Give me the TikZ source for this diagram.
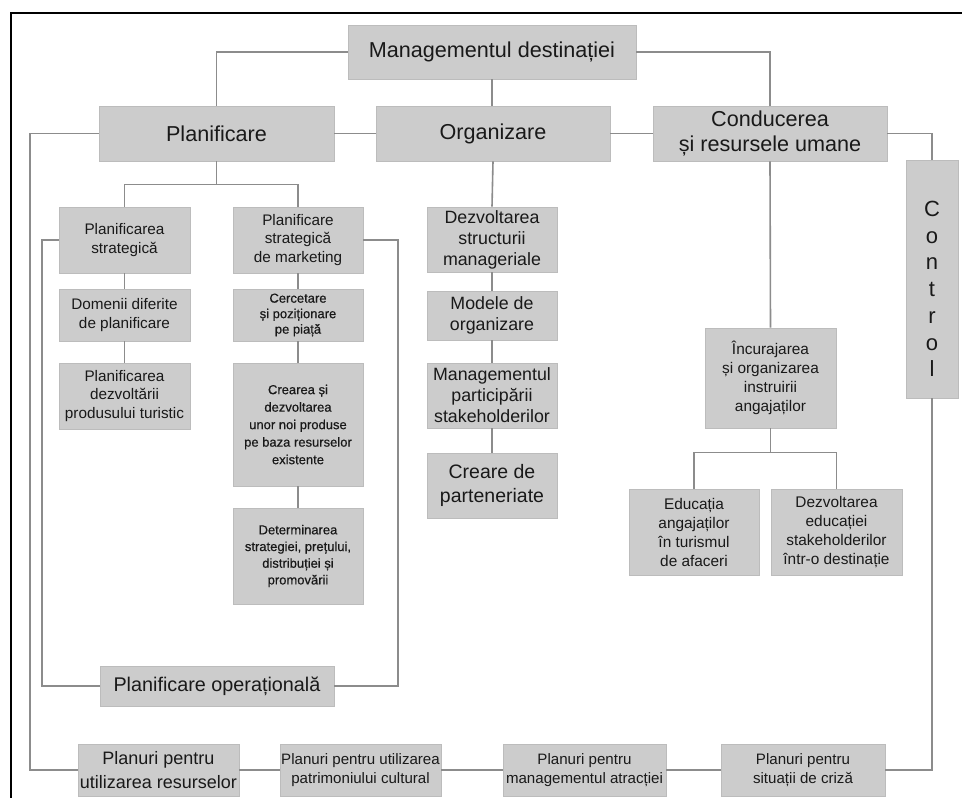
\documentclass[tikz,border=0pt]{standalone}
\usepackage{fontspec}
\setmainfont{Liberation Sans}
\newfontfamily\semibfont[FakeBold=0.5]{Liberation Sans}
\definecolor{boxgray}{RGB}{204,204,204}
\definecolor{boxedge}{RGB}{188,188,188}
\definecolor{linegray}{RGB}{140,140,140}
\definecolor{txt}{RGB}{25,25,25}
\begin{document}
\begin{tikzpicture}[x=1pt,y=-1pt,
  box/.style={fill=boxgray, draw=boxedge, line width=0.6pt, inner sep=0pt, align=center, text=txt},
  wh/.style 2 args={minimum width=#1, minimum height=#2},
  conn/.style={draw=linegray, line width=1.6pt},
  fA/.style={font=\fontsize{21.6}{24.5}\selectfont},
  fB/.style={font=\fontsize{15.3}{18.8}\selectfont},
  fC/.style={font=\semibfont\fontsize{13}{15.5}\selectfont},
  fCb/.style={font=\semibfont\fontsize{13}{17.5}\selectfont},
  fCc/.style={font=\semibfont\fontsize{13}{16.7}\selectfont},
  fD/.style={font=\fontsize{19.8}{23}\selectfont},
  fE/.style={font=\fontsize{17.8}{21}\selectfont},
  fF/.style={font=\fontsize{19.5}{23.5}\selectfont},
  fG/.style={font=\fontsize{15.4}{19}\selectfont},
  fH/.style={font=\fontsize{15.1}{19}\selectfont},
  fK/.style={font=\fontsize{18}{24}\selectfont}
]
\useasboundingbox (0,0) rectangle (962,798);
\fill[white] (0,0) rectangle (962,798);

% frame
\draw[line width=2.5pt, black] (975,13) -- (11,13) -- (11,810);

% top level
\node[box,fA,wh={288}{54}] (mgmt) at (492,52) {Managementul destinației};
\node[box,fA,wh={235}{55}] (plan) at (216.5,133.5) {Planificare};
\node[box,fA,wh={234}{55}] (org) at (493,133.5) {Organizare};
\node[box,fA,wh={234}{55}] (cond) at (770,133.5) {Conducerea\\și resursele umane};
\node[box,wh={52}{238}] (ctrl) at (932,279) {};
\node[font=\fontsize{22}{26.7}\selectfont, align=center, text=txt, inner sep=0pt] (ctrltxt) at (932,289) {C\\o\\n\\t\\r\\o\\l};

% planificare branch
\node[box,fB,wh={131}{66}] (ps) at (124.5,240) {Planificarea\\strategică};
\node[box,fB,wh={131}{52}] (dom) at (124.5,315) {Domenii diferite\\de planificare};
\node[box,fB,wh={131}{66}] (pdp) at (124.5,396) {Planificarea\\dezvoltării\\produsului turistic};
\node[box,fB,wh={130}{66}] (psm) at (298,240) {Planificare\\strategică\\de marketing};
\node[box,fC,wh={130}{52}] (cerc) at (298,315) {Cercetare\\și poziționare\\pe piață};
\node[box,fCb,wh={130}{123}] (crea) at (298,424.5) {Crearea și\\dezvoltarea\\unor noi produse\\pe baza resurselor\\existente};
\node[box,fCc,wh={130}{96}] (det) at (298,556) {Determinarea\\strategiei, prețului,\\distribuției și\\promovării};
\node[box,fD,wh={234}{40}] (op) at (217,686) {Planificare operațională};

% organizare branch
\node[box,fE,wh={130}{65}] (dsm) at (492,239.5) {Dezvoltarea\\structurii\\manageriale};
\node[box,fE,wh={130}{49}] (mod) at (492,315.5) {Modele de\\organizare};
\node[box,fE,wh={130}{65}] (mpart) at (492,395.5) {Managementul\\participării\\stakeholderilor};
\node[box,fF,wh={130}{65}] (crp) at (492,485.5) {Creare de\\parteneriate};

% conducerea branch
\node[box,fG,wh={131}{100}] (inc) at (770.5,378) {Încurajarea\\și organizarea\\instruirii\\angajaților};
\node[box,fG,wh={130}{86}] (edu) at (694,532) {Educația\\angajaților\\în turismul\\de afaceri};
\node[box,fG,wh={131}{86}] (dez) at (836.5,532) {Dezvoltarea\\educației\\stakeholderilor\\într-o destinație};

% bottom row
\node[box,fK,wh={161}{52}] (pur) at (158.5,770) {Planuri pentru\\utilizarea resurselor};
\node[box,fH,wh={161}{52}] (ppc) at (360.5,770) {Planuri pentru utilizarea\\patrimoniului cultural};
\node[box,fH,wh={163}{52}] (pma) at (584.5,770) {Planuri pentru\\managementul atracției};
\node[box,fH,wh={164}{52}] (psc) at (803,770) {Planuri pentru\\situații de criză};

% helper coordinates
\path (plan.south) ++(0,23) coordinate (pj);
\path (inc.south) ++(0,24) coordinate (cj);
\coordinate (ol) at (30,0);
\coordinate (il) at (42,0);
\coordinate (ir) at (398,0);

% connectors
\draw[conn] (mgmt.west) -| (plan.north);
\draw[conn] (mgmt.east) -| (cond.north);
\draw[conn] (mgmt.south) -- (mgmt.south |- org.north);
\draw[conn] (plan.east) -- (org.west);
\draw[conn] (org.east) -- (cond.west);
\draw[conn] (cond.east) -| (ctrl.north);

\draw[conn] (plan.south) -- (pj);
\draw[conn] (ps.north) -- (ps.north |- pj) -- (psm.north |- pj) -- (psm.north);
\draw[conn] (ps.south) -- (dom.north);
\draw[conn] (dom.south) -- (pdp.north);
\draw[conn] (psm.south) -- (cerc.north);
\draw[conn] (cerc.south) -- (crea.north);
\draw[conn] (crea.south) -- (det.north);
\draw[conn] (plan.west) -| (ol |- pur.west) -- (pur.west);
\draw[conn] (ps.west) -| (il |- op.west) -- (op.west);
\draw[conn] (psm.east) -| (ir |- op.east) -- (op.east);

\draw[conn] (org.south) -- (dsm.north);
\draw[conn] (dsm.south) -- (mod.north);
\draw[conn] (mod.south) -- (mpart.north);
\draw[conn] (mpart.south) -- (crp.north);

\draw[conn] (cond.south) -- (inc.north);
\draw[conn] (inc.south) -- (cj);
\draw[conn] (edu.north) -- (edu.north |- cj) -- (dez.north |- cj) -- (dez.north);

\draw[conn] (pur.east) -- (ppc.west);
\draw[conn] (ppc.east) -- (pma.west);
\draw[conn] (pma.east) -- (psc.west);
\draw[conn] (psc.east) -| (ctrl.south);
\end{tikzpicture}
\end{document}
